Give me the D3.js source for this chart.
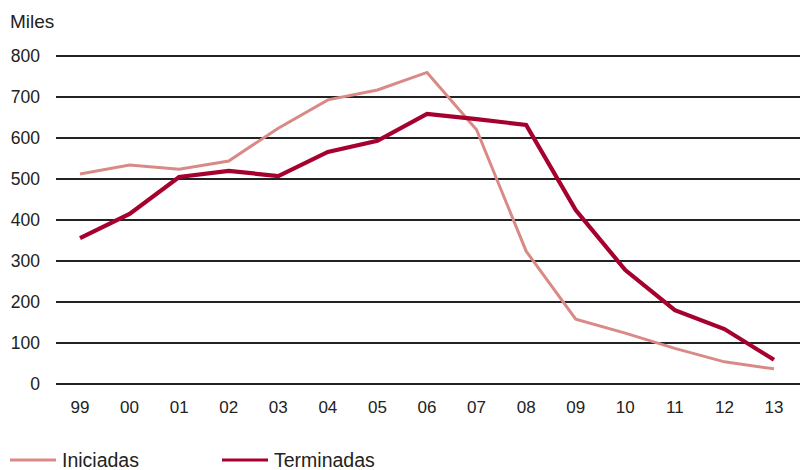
<!DOCTYPE html>
<html>
<head>
<meta charset="utf-8">
<script src="https://cdn.jsdelivr.net/npm/d3@7"></script>
<style>
  body { margin: 0; background: #fff; }
  text { font-family: "Liberation Sans", sans-serif; fill: #222; }
</style>
</head>
<body>
<svg id="chart" width="800" height="470"></svg>
<script>
var years = ['99', '00', '01', '02', '03', '04', '05', '06', '07', '08', '09', '10', '11', '12', '13'];
var iniciadas = [512, 534, 524, 544, 624, 693, 717, 760, 620, 324, 158, 124, 87, 54, 37];
var terminadas = [356, 415, 505, 520, 507, 566, 593, 659, 646, 632, 424, 278, 180, 134, 59];
var yTicks = [0, 100, 200, 300, 400, 500, 600, 700, 800];

var svg = d3.select('#chart');

var x = d3.scalePoint().domain(years).range([80, 774]);
var y = d3.scaleLinear().domain([0, 800]).range([384, 56]);

//grid
svg.selectAll('.grid')
  .data(yTicks).enter()
  .append('line')
  .attr('x1', 56).attr('x2', 800)
  .attr('y1', function (d) { return y(d); })
  .attr('y2', function (d) { return y(d); })
  .attr('stroke', '#222')
  .attr('stroke-width', 1.8);

//y labels
svg.selectAll('.ylab')
  .data(yTicks).enter()
  .append('text')
  .attr('x', 40)
  .attr('y', function (d) { return y(d); })
  .attr('dy', '0.36em')
  .attr('text-anchor', 'end')
  .style('font-size', '17.5px')
  .text(function (d) { return d; });

svg.append('text')
  .attr('x', 10).attr('y', 28)
  .style('font-size', '19px')
  .text('Miles');

//x labels
svg.selectAll('.xlab')
  .data(years).enter()
  .append('text')
  .attr('x', function (d) { return x(d); })
  .attr('y', 413)
  .attr('text-anchor', 'middle')
  .style('font-size', '17px')
  .text(function (d) { return d; });

var line = d3.line()
  .x(function (d, i) { return x(years[i]); })
  .y(function (d) { return y(d); });

svg.append('path')
  .datum(iniciadas)
  .attr('d', line)
  .attr('fill', 'none')
  .attr('stroke', '#d98a86')
  .attr('stroke-width', 3);

svg.append('path')
  .datum(terminadas)
  .attr('d', line)
  .attr('fill', 'none')
  .attr('stroke', '#a6002f')
  .attr('stroke-width', 4.2);

//legend
var legend = [
  {name: 'Iniciadas', color: '#d98a86', x: 10},
  {name: 'Terminadas', color: '#a6002f', x: 222}
];
legend.forEach(function (l) {
  svg.append('line')
    .attr('x1', l.x).attr('x2', l.x + 46)
    .attr('y1', 460).attr('y2', 460)
    .attr('stroke', l.color).attr('stroke-width', 3);
  svg.append('text')
    .attr('x', l.x + 52).attr('y', 467)
    .style('font-size', '19.5px')
    .text(l.name);
});
</script>
</body>
</html>
